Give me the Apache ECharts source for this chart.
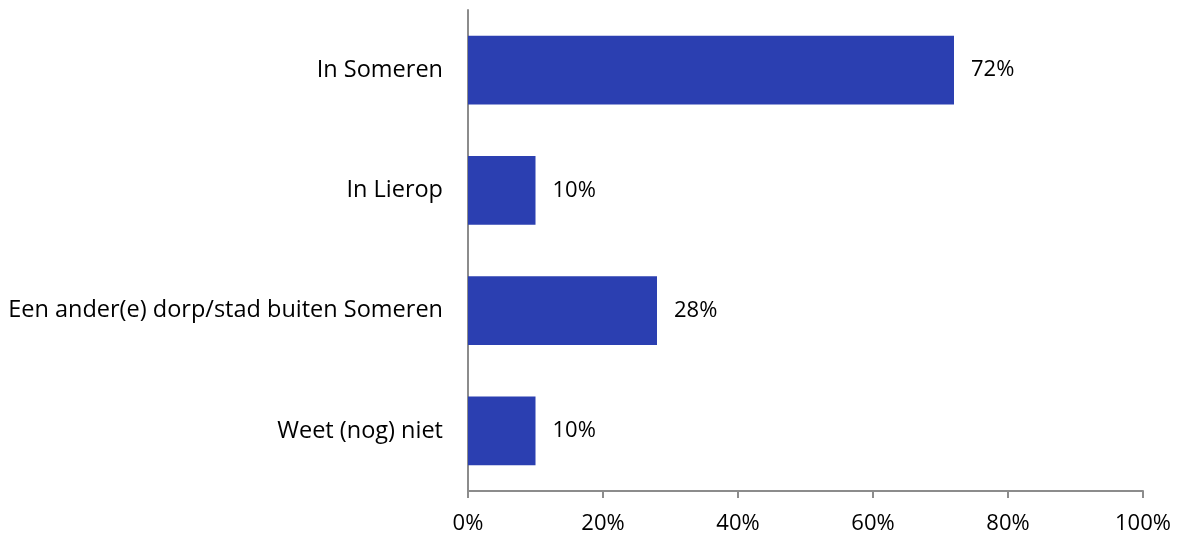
<!DOCTYPE html>
<html>
<head>
<meta charset="utf-8">
<script src="https://cdn.jsdelivr.net/npm/echarts@6/dist/echarts.min.js"></script>
<style>
  html, body { margin: 0; padding: 0; background: #fff; }
  #chart { width: 1181px; height: 539px; }
</style>
</head>
<body>
<div id="chart"></div>
<script>
  // data
  const categories = ['In Someren', 'In Lierop', 'Een ander(e) dorp/stad buiten Someren', 'Weet (nog) niet'];
  const percents = [72, 10, 28, 10];
  const tickValues = [0, 20, 40, 60, 80, 100];

  const font = 'Open Sans';
  let chart = echarts.init(document.getElementById('chart'));
  chart.setOption({
    animation: false,
    textStyle: { fontFamily: font },
    grid: { left: 468, right: 38, top: 10, bottom: 48, containLabel: false },
    xAxis: {
      type: 'value',
      min: tickValues[0],
      max: tickValues[tickValues.length - 1],
      interval: 20,
      axisLine: { show: true, lineStyle: { color: '#8c8c8c', width: 2 } },
      axisTick: { show: true, length: 7, lineStyle: { color: '#8c8c8c', width: 2 } },
      splitLine: { show: false },
      axisLabel: { formatter: '{value}%', color: '#000', fontSize: 22, margin: 22, fontFamily: font }
    },
    yAxis: {
      type: 'category',
      inverse: true,
      data: categories,
      axisLine: { show: true, lineStyle: { color: '#8c8c8c', width: 2 } },
      axisTick: { show: false },
      axisLabel: { color: '#000', fontSize: 23.5, margin: 25, fontFamily: font }
    },
    series: [{
      type: 'bar',
      data: percents,
      barCategoryGap: '43%',
      itemStyle: { color: '#2b3fb1' },
      label: {
        show: true,
        position: 'right',
        distance: 17,
        formatter: '{c}%',
        color: '#000',
        fontSize: 22,
        fontFamily: font
      }
    }]
  });
</script>
</body>
</html>
